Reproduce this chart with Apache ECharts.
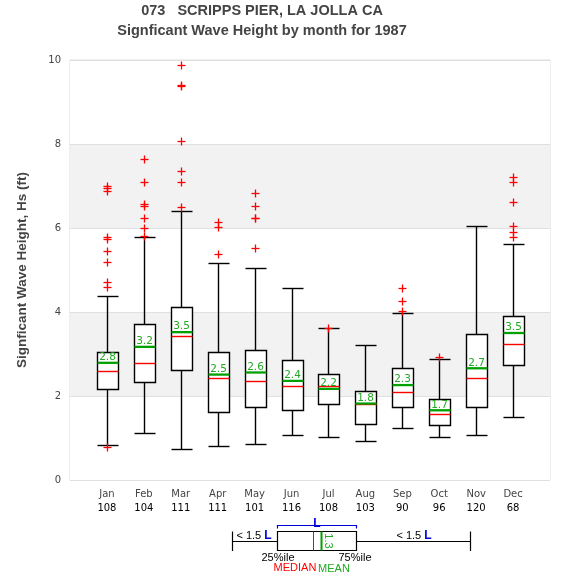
<!DOCTYPE html>
<html><head><meta charset="utf-8">
<script src="https://cdn.jsdelivr.net/npm/echarts@6/dist/echarts.min.js"></script>
<style>html,body{margin:0;padding:0;background:#fff}#c{width:575px;height:580px}</style>
</head><body><div id="c"></div>
<script>
const months = ['Jan','Feb','Mar','Apr','May','Jun','Jul','Aug','Sep','Oct','Nov','Dec'];
const counts = [108,104,111,111,101,116,108,103,90,96,120,68];
const lowWhisker  = [0.83,1.11,0.75,0.80,0.85,1.06,1.02,0.92,1.23,1.02,1.06,1.49];
const q1          = [2.16,2.33,2.61,1.63,1.75,1.66,1.80,1.33,1.75,1.30,1.73,2.75];
const medians     = [2.59,2.78,3.44,2.44,2.35,2.23,2.23,1.81,2.09,1.56,2.44,3.23];
const q3          = [3.04,3.71,4.13,3.04,3.09,2.85,2.52,2.13,2.66,1.92,3.47,3.90];
const highWhisker = [4.37,5.78,6.40,5.16,5.04,4.56,3.61,3.21,3.97,2.87,6.04,5.61];
const means       = [2.79,3.17,3.52,2.51,2.56,2.36,2.17,1.82,2.26,1.66,2.66,3.50];
const outliers = [
  [6.99,6.95,6.87,5.79,5.73,5.45,5.19,4.71,4.60,0.79],
  [7.64,7.10,6.57,6.52,6.23,5.99,5.80],
  [9.87,9.40,9.38,8.07,7.35,7.09,6.50],
  [6.14,6.03,5.38],
  [6.83,6.52,6.25,6.23,5.52],
  [],
  [3.62],
  [],
  [4.56,4.26,4.02],
  [2.93],
  [],
  [7.21,7.09,6.61,6.05,5.91,5.78]
];
const yTicks = [0,2,4,6,8,10];

const catData = [''].concat(months).concat(['']);
const boxData = months.map((m,i)=>[i+1, lowWhisker[i], q1[i], medians[i], q3[i], highWhisker[i], means[i]]);
const outData = [];
outliers.forEach((arr,i)=>arr.forEach(v=>outData.push([i+1, v])));

const GREEN = '#00a000', TGREEN = '#22aa22', RED = '#ff0000';
const r = v => Math.round(v) + 0.5;

const chart = echarts.init(document.getElementById('c'), null, {renderer:'canvas'});

function boxRender(params, api){
  const x = api.value(0);
  const c = v => api.coord([x, v]);
  const w = api.size([1,0])[0]*0.56, hw = w/2;
  const cx = r(c(0)[0]);
  const yLo = r(c(api.value(1))[1]), yA = r(c(api.value(2))[1]), yMd = r(c(api.value(3))[1]),
        yB = r(c(api.value(4))[1]), yHi = r(c(api.value(5))[1]), yMn = c(api.value(6))[1];
  const x0 = Math.round(cx-hw)+0.5, x1 = Math.round(cx+hw)+0.5;
  const ls = {stroke:'#000', lineWidth:1.4};
  return {type:'group', children:[
    {type:'line', shape:{x1:cx,y1:yHi,x2:cx,y2:yB}, style:ls},
    {type:'line', shape:{x1:cx,y1:yA,x2:cx,y2:yLo}, style:ls},
    {type:'line', shape:{x1:x0,y1:yHi,x2:x1,y2:yHi}, style:ls},
    {type:'line', shape:{x1:x0,y1:yLo,x2:x1,y2:yLo}, style:ls},
    {type:'rect', shape:{x:x0,y:yB,width:x1-x0,height:yA-yB}, style:{fill:'#fff',stroke:'#000',lineWidth:1.4}},
    {type:'line', shape:{x1:x0,y1:yMd,x2:x1,y2:yMd}, style:{stroke:RED,lineWidth:1.4}},
    {type:'line', shape:{x1:x0,y1:yMn,x2:x1,y2:yMn}, style:{stroke:GREEN,lineWidth:2.3}},
    {type:'text', x:cx, y:yMn, style:{text:api.value(6).toFixed(1), fill:TGREEN, font:'10.5px "DejaVu Sans"', align:'center', verticalAlign:'bottom'}}
  ]};
}
function outRender(params, api){
  const p = api.coord([api.value(0), api.value(1)]);
  const cx = r(p[0]), cy = r(p[1]), s = 4;
  const st = {stroke:RED, lineWidth:1.3};
  return {type:'group', children:[
    {type:'line', shape:{x1:cx-s,y1:cy,x2:cx+s,y2:cy}, style:st},
    {type:'line', shape:{x1:cx,y1:cy-s,x2:cx,y2:cy+s}, style:st}
  ]};
}

const LF = '11px "Liberation Sans", Arial';
const TF = 'bold 14.5px "Liberation Sans", Arial';
const option = {
  animation:false,
  backgroundColor:'#fff',
  grid:{left:70, right:25, top:60, bottom:100, show:true, borderColor:'#dcdcdc', borderWidth:1, backgroundColor:'transparent'},
  xAxis:{type:'category', data:catData, boundaryGap:false,
    axisLine:{show:false}, axisTick:{show:false}, splitLine:{show:false},
    axisLabel:{interval:0, margin:7, formatter:(v)=>{const i=months.indexOf(v); return i<0?'':'{m|'+v+'}\n{n|'+counts[i]+'}';},
      rich:{m:{fontSize:10, fontFamily:'DejaVu Sans', color:'#444', lineHeight:14}, n:{fontSize:10, fontFamily:'DejaVu Sans', color:'#000', lineHeight:14}}}},
  yAxis:{type:'value', min:0, max:10, interval:2,
    name:'Signficant Wave Height, Hs (ft)', nameLocation:'middle', nameGap:41,
    nameTextStyle:{fontSize:13.5, fontWeight:'bold', color:'#444', fontFamily:'"Liberation Sans", Arial'},
    axisLine:{show:false}, axisTick:{show:false},
    axisLabel:{margin:9, fontSize:10, color:'#444', fontFamily:'DejaVu Sans', formatter:v=>yTicks.includes(v)?String(v):''},
    splitLine:{lineStyle:{color:'#e0e0e0', width:1}},
    splitArea:{show:true, areaStyle:{color:['#ffffff','#f2f2f2']}}},
  series:[
    {type:'custom', data:boxData, renderItem:boxRender, encode:{x:0,y:[1,2,3,4,5,6]}, z:2},
    {type:'custom', data:outData, renderItem:outRender, encode:{x:0,y:1}, z:3}
  ],
  graphic:[
    {type:'text', x:262, y:11, style:{text:'073   SCRIPPS PIER, LA JOLLA CA', font:TF, fill:'#444', align:'center', verticalAlign:'middle'}},
    {type:'text', x:262, y:31, style:{text:'Signficant Wave Height by month for 1987', font:TF, fill:'#444', align:'center', verticalAlign:'middle'}},
    // legend key
    {type:'line', shape:{x1:232.5,y1:531.5,x2:232.5,y2:551}, style:{stroke:'#000',lineWidth:1.2}},
    {type:'line', shape:{x1:232.5,y1:541.5,x2:277.5,y2:541.5}, style:{stroke:'#000',lineWidth:1}},
    {type:'rect', shape:{x:277.5,y:531.5,width:79,height:19}, style:{fill:'#fff',stroke:'#000',lineWidth:1.2}},
    {type:'line', shape:{x1:313.5,y1:531.5,x2:313.5,y2:550.5}, style:{stroke:RED,lineWidth:1}},
    {type:'line', shape:{x1:321.5,y1:531.5,x2:321.5,y2:550.5}, style:{stroke:GREEN,lineWidth:2}},
    {type:'text', x:328, y:541, rotation:-Math.PI/2, style:{text:'1.3', fill:TGREEN, font:LF, align:'center', verticalAlign:'middle'}},
    {type:'line', shape:{x1:356.5,y1:541.5,x2:470.5,y2:541.5}, style:{stroke:'#000',lineWidth:1}},
    {type:'line', shape:{x1:470.5,y1:531.5,x2:470.5,y2:551}, style:{stroke:'#000',lineWidth:1.2}},
    {type:'polyline', shape:{points:[[277.5,528.5],[277.5,525.5],[356.5,525.5],[356.5,528.5]]}, style:{stroke:'#0000dd',lineWidth:1.2,fill:null}},
    {type:'text', x:317, y:524, style:{text:'L', fill:'#0000dd', font:'bold 12px "Liberation Sans", Arial', align:'center', verticalAlign:'middle'}},
    {type:'text', x:254, y:536, style:{text:'< 1.5 {b|L}', fill:'#000', font:LF, align:'center', verticalAlign:'middle', rich:{b:{fill:'#0000dd', font:'bold 12px "Liberation Sans", Arial'}}}},
    {type:'text', x:414, y:536, style:{text:'< 1.5 {b|L}', fill:'#000', font:LF, align:'center', verticalAlign:'middle', rich:{b:{fill:'#0000dd', font:'bold 12px "Liberation Sans", Arial'}}}},
    {type:'text', x:278, y:558, style:{text:'25%ile', fill:'#000', font:LF, align:'center', verticalAlign:'middle'}},
    {type:'text', x:355, y:558, style:{text:'75%ile', fill:'#000', font:LF, align:'center', verticalAlign:'middle'}},
    {type:'text', x:295, y:568, style:{text:'MEDIAN', fill:RED, font:LF, align:'center', verticalAlign:'middle'}},
    {type:'text', x:334, y:569, style:{text:'MEAN', fill:TGREEN, font:LF, align:'center', verticalAlign:'middle'}}
  ]
};
chart.setOption(option);
</script></body></html>
